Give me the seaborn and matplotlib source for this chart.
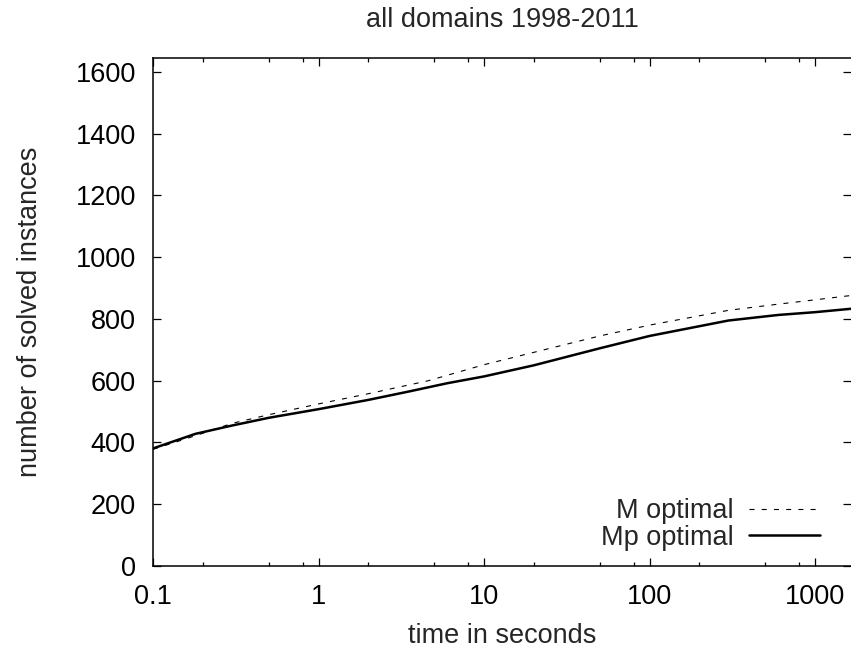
import matplotlib
matplotlib.use("Agg")
import matplotlib.pyplot as plt
import matplotlib.ticker as mticker
import numpy as np
import pandas as pd
import seaborn as sns

# data
m_time = [0.1, 0.18, 0.3, 0.5, 1, 2, 4.6, 10, 20, 50, 100, 300, 600, 1000, 1650]
m_solved = [378, 422, 462, 490, 525, 558, 600, 652, 692, 745, 780, 828, 848, 862, 876]
mp_time = [0.1, 0.18, 0.3, 0.5, 1, 2, 3.5, 6, 10, 20, 50, 100, 300, 600, 1000, 1650]
mp_solved = [381, 428, 455, 480, 508, 538, 565, 592, 614, 650, 705, 745, 795, 813, 822, 833]
series_names = ["M optimal", "Mp optimal"]
x_ticks = [0.1, 1, 10, 100, 1000]
y_ticks = [0, 200, 400, 600, 800, 1000, 1200, 1400, 1600]

sns.set_style("ticks")
plt.rcParams["font.family"] = ["Liberation Sans", "DejaVu Sans"]

FS = 19.5

df_m = pd.DataFrame({"time": m_time, "solved": m_solved})
df_mp = pd.DataFrame({"time": mp_time, "solved": mp_solved})

fig = plt.figure(figsize=(8.51, 6.48), dpi=100)
ax = fig.add_axes([0.18, 0.1265, 0.82, 0.7835])

sns.lineplot(data=df_m, x="time", y="solved", ax=ax, color="black",
             linewidth=0.8, label=series_names[0])
ax.lines[-1].set_dashes((4.5, 6.5))
sns.lineplot(data=df_mp, x="time", y="solved", ax=ax, color="black",
             linewidth=1.8, label=series_names[1])

ax.set_xscale("log")
ax.set_xlim(0.1, 1650)
ax.set_ylim(0, 1644)
ax.xaxis.set_major_locator(mticker.FixedLocator(x_ticks))
ax.xaxis.set_major_formatter(mticker.FixedFormatter([f"{v:g}" for v in x_ticks]))
ax.xaxis.set_minor_locator(mticker.LogLocator(base=10, subs=(2, 5, 8)))
ax.xaxis.set_minor_formatter(mticker.NullFormatter())
ax.yaxis.set_major_locator(mticker.FixedLocator(y_ticks))

ax.tick_params(which="both", direction="in", top=True, right=True,
               labelsize=FS, colors="black", width=0.9)
ax.tick_params(which="major", length=5.5)
ax.tick_params(which="minor", length=2.8)
ax.tick_params(axis="x", which="major", pad=13)
ax.tick_params(axis="y", which="major", pad=12.5)
for side in ["left", "bottom", "top"]:
    ax.spines[side].set_linewidth(1.1)
    ax.spines[side].set_color("black")
ax.spines["right"].set_visible(False)

ax.set_xlabel("time in seconds", fontsize=FS)
ax.xaxis.set_label_coords(0.5, -0.112)
ax.set_ylabel("number of solved instances", fontsize=FS)
ax.yaxis.set_label_coords(-0.158, 0.5)
ax.set_title("all domains 1998-2011", fontsize=FS, pad=22.5)

leg = ax.legend(loc="lower right", bbox_to_anchor=(0.956, 0.03), frameon=False,
                markerfirst=False, fontsize=FS, handlelength=2.65,
                handletextpad=0.55, labelspacing=0.03, borderaxespad=0.0,
                borderpad=0.0)

fig.savefig("out.png", dpi=100)
